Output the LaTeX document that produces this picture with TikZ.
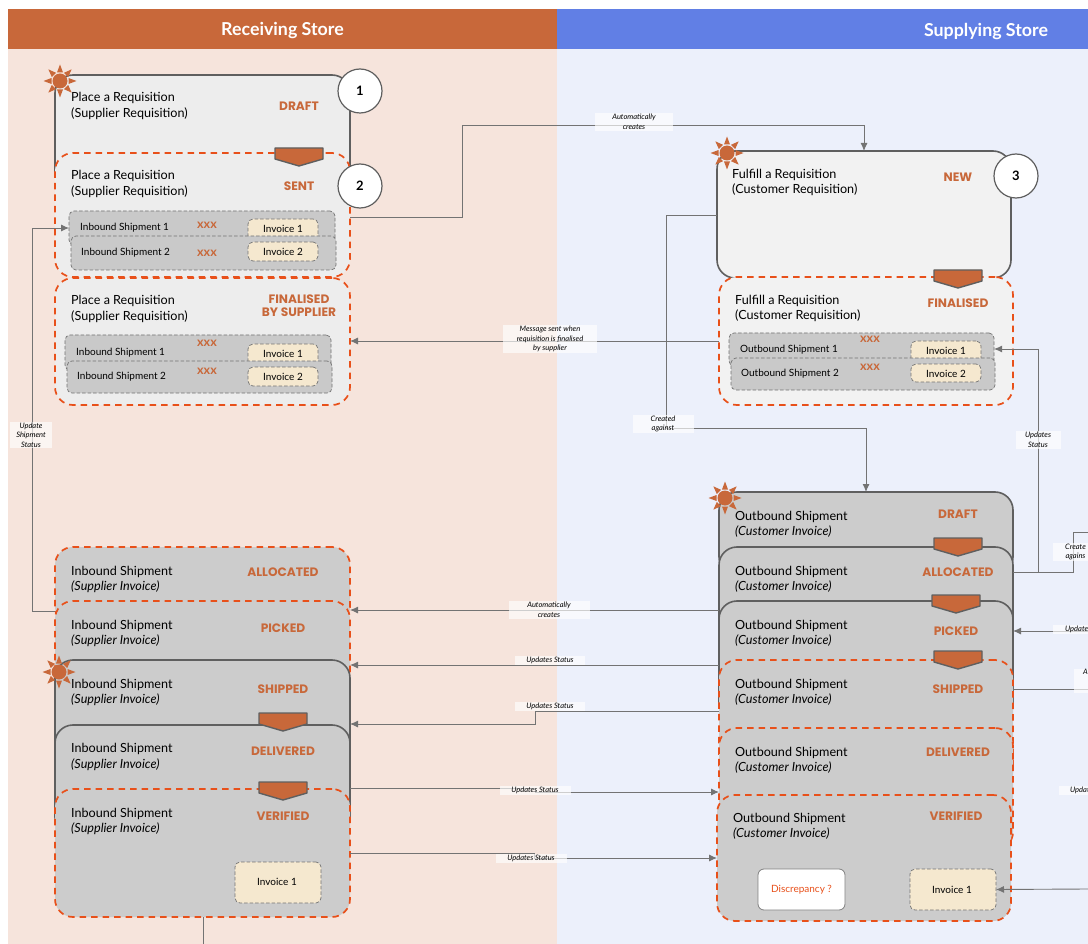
\documentclass[tikz,border=0pt]{standalone}
\usepackage{xcolor}
\usepackage{fontspec}
\setmainfont{Lato}
\newfontfamily\statusfont{Poppins}
\usepackage{tikz}
\usetikzlibrary{arrows.meta, positioning, fit}

\definecolor{rust}{HTML}{C8683A}
\definecolor{royal}{HTML}{617FE5}
\definecolor{blush}{HTML}{F6E4DC}
\definecolor{mist}{HTML}{ECF0FB}
\definecolor{flame}{HTML}{E8501A}
\definecolor{slate}{HTML}{5F5F5F}
\definecolor{cream}{HTML}{F5E8CF}

\begin{document}
\begin{tikzpicture}[
  x=1pt, y=-1pt,
  panel/.style={rectangle, inner sep=0pt, outer sep=0pt},
  stagebox/.style={rectangle, rounded corners=18pt, inner sep=0pt, outer sep=0pt, draw=slate, line width=1.6pt},
  dashbox/.style={stagebox, draw=flame, line width=1.7pt, dash pattern=on 6.500pt off 5pt},
  shipbox/.style={rectangle, rounded corners=5pt, inner sep=0pt, outer sep=0pt, draw=black!55, fill=black!21, line width=0.7pt, dash pattern=on 3.500pt off 2pt},
  invoice/.style={shipbox, fill=cream},
  flagbox/.style={rectangle, rounded corners=6pt, inner sep=0pt, outer sep=0pt, draw=gray, fill=white, line width=0.8pt},
  header/.style={text=white, font=\fontsize{17.8}{20}\selectfont\bfseries},
  title/.style={anchor=west, align=left, inner sep=0pt, font=\fontsize{12.6}{15.5}\selectfont},
  small/.style={anchor=west, inner sep=0pt, font=\fontsize{10}{12}\selectfont},
  plain/.style={inner sep=0pt, font=\fontsize{10}{12}\selectfont},
  status/.style={align=center, inner sep=0pt, text=rust, font=\fontsize{12.2}{13}\statusfont\bfseries},
  xmark/.style={inner sep=0pt, text=rust, font=\fontsize{12.5}{12}\selectfont\bfseries},
  badge/.style={circle, minimum size=44pt, inner sep=0pt, draw=slate, fill=white, line width=1.2pt, font=\fontsize{13}{15}\selectfont\bfseries},
  wire/.style={draw=black!55, line width=0.9pt},
  arrow/.style={wire, -{Latex[length=8pt, width=7pt]}},
  tag/.style={fill=white, fill opacity=0.65, text opacity=1, inner sep=0pt, align=center, font=\fontsize{7.5}{9.5}\selectfont\itshape},
  sun/.pic={
    \fill[rust] (0,0) circle (7.5);
    \foreach \a in {0,45,...,315}
      \fill[rust, rotate=\a] (8.500,-3) -- (16.5,0) -- (8.500,3) -- cycle;
  },
  chevron/.pic={
    \filldraw[fill=rust, draw=slate, line width=1.4pt, line join=round]
      (-24,0) -- (24,0) -- (24,11) -- (0,18) -- (-24,11) -- cycle;
  }
]
\useasboundingbox (0,0) rectangle (1088,944);
\clip (0,0) rectangle (1088,944);
\fill[white] (0,0) rectangle (1088,944);

% panels
\node[panel, fill=blush, fit={(8,49) (557,944)}] (recvPanel) {};
\node[panel, fill=mist, fit={(557,49) (1088,944)}] (supPanel) {};
\node[panel, fill=rust, fit={(8,9) (557,49)}] (recvHead) {};
\node[panel, fill=royal, fit={(557,9) (1088,49)}] (supHead) {};
\node[header] (recvTitle) at (282.500,31) {Receiving Store};
\node[header] (supTitle) at (986,31) {Supplying Store};

% supplier requisition
\node[stagebox, fill=black!7, fit={(55,75) (350,190)}] (reqDraft) {};
\node[dashbox, fill=black!7, fit={(55,153) (350,277)}] (reqSent) {};
\node[dashbox, fill=black!7, fit={(55,278) (350,405)}] (reqFinal) {};
\node[title] (reqDraftText) at (71,106) {Place a Requisition\\(Supplier Requisition)};
\node[title] (reqSentText) at (71,184) {Place a Requisition\\(Supplier Requisition)};
\node[title] (reqFinalText) at (71,309) {Place a Requisition\\(Supplier Requisition)};
\node[status] (reqDraftState) at (299,106) {DRAFT};
\node[status] (reqSentState) at (299,186) {SENT};
\node[status] (reqFinalState) at (299,305.500) {FINALISED\\BY SUPPLIER};
\pic at (299,148) {chevron};
\pic at (60,81) {sun};
\node[badge] (badgeOne) at (360,91) {1};
\node[badge] (badgeTwo) at (360,186) {2};

\node[shipbox, fit={(69,211) (335,245)}] (sentShipA) {};
\node[invoice, fit={(248,219) (318,245)}] (sentInvA) {};
\node[shipbox, fit={(71,236) (336,270)}] (sentShipB) {};
\node[invoice, fit={(248,242) (318,261)}] (sentInvB) {};
\node[small] (sentShipAText) at (80,228) {Inbound Shipment 1};
\node[small] (sentShipBText) at (81,253) {Inbound Shipment 2};
\node[xmark] (sentMarkA) at (207,225) {xxx};
\node[xmark] (sentMarkB) at (207,253) {xxx};
\node[plain] (sentInvAText) at (283,228.500) {Invoice 1};
\node[plain] (sentInvBText) at (283,252) {Invoice 2};

\node[shipbox, fit={(65,335) (331,370)}] (finalShipA) {};
\node[invoice, fit={(248,344) (318,370)}] (finalInvA) {};
\node[shipbox, fit={(67,361) (332,393)}] (finalShipB) {};
\node[invoice, fit={(248,367) (318,386)}] (finalInvB) {};
\node[small] (finalShipAText) at (76,353) {Inbound Shipment 1};
\node[small] (finalShipBText) at (77,377) {Inbound Shipment 2};
\node[xmark] (finalMarkA) at (207,343) {xxx};
\node[xmark] (finalMarkB) at (207,371) {xxx};
\node[plain] (finalInvAText) at (283,353.500) {Invoice 1};
\node[plain] (finalInvBText) at (283,376.500) {Invoice 2};

% customer requisition
\node[stagebox, fill=black!5, fit={(717,151) (1011,278)}] (custNew) {};
\node[dashbox, fill=black!5, fit={(719,277) (1013,405)}] (custFinal) {};
\node[title] (custNewText) at (732,182.500) {Fulfill a Requisition\\(Customer Requisition)};
\node[title] (custFinalText) at (735,308.500) {Fulfill a Requisition\\(Customer Requisition)};
\node[status] (custNewState) at (958,177) {NEW};
\node[status] (custFinalState) at (958,303) {FINALISED};
\pic at (958,270) {chevron};
\pic at (727,153) {sun};
\node[badge] (badgeThree) at (1016,176) {3};

\node[shipbox, fit={(729,333) (994,366)}] (custShipA) {};
\node[invoice, fit={(911,341) (981,366)}] (custInvA) {};
\node[shipbox, fit={(731,358) (995,390)}] (custShipB) {};
\node[invoice, fit={(911,364) (981,382)}] (custInvB) {};
\node[small] (custShipAText) at (740,350) {Outbound Shipment 1};
\node[small] (custShipBText) at (741,374) {Outbound Shipment 2};
\node[xmark] (custMarkA) at (870,339) {xxx};
\node[xmark] (custMarkB) at (870,367) {xxx};
\node[plain] (custInvAText) at (946,350.500) {Invoice 1};
\node[plain] (custInvBText) at (946,373.500) {Invoice 2};

% inbound shipment stack
\node[dashbox, fill=black!20, fit={(55,547) (350,625)}] (inAlloc) {};
\node[dashbox, fill=black!20, fit={(55,601) (350,690)}] (inPick) {};
\node[stagebox, fill=black!20, fit={(55,660) (350,770)}] (inShip) {};
\node[stagebox, fill=black!20, fit={(55,725) (350,835)}] (inDeliv) {};
\node[dashbox, fill=black!20, fit={(55,789) (350,917)}] (inVerif) {};
\node[title] (inAllocText) at (71,579.500) {Inbound Shipment\\\textit{(Supplier Invoice)}};
\node[title] (inPickText) at (71,633.500) {Inbound Shipment\\\textit{(Supplier Invoice)}};
\node[title] (inShipText) at (71,692.500) {Inbound Shipment\\\textit{(Supplier Invoice)}};
\node[title] (inDelivText) at (71,757) {Inbound Shipment\\\textit{(Supplier Invoice)}};
\node[title] (inVerifText) at (71,821.500) {Inbound Shipment\\\textit{(Supplier Invoice)}};
\node[status] (inAllocState) at (283,572) {ALLOCATED};
\node[status] (inPickState) at (283,628) {PICKED};
\node[status] (inShipState) at (283,689) {SHIPPED};
\node[status] (inDelivState) at (283,751) {DELIVERED};
\node[status] (inVerifState) at (283,816) {VERIFIED};
\pic at (283,713) {chevron};
\pic at (283,782) {chevron};
\pic at (59,672) {sun};
\node[invoice, fit={(235,862) (321,903)}] (inInv) {};
\node[plain] (inInvText) at (277,882) {Invoice 1};

% outbound shipment stack
\node[stagebox, fill=black!20, fit={(719,492) (1013,575)}] (outDraft) {};
\node[stagebox, fill=black!20, fit={(719,547) (1013,640)}] (outAlloc) {};
\node[stagebox, fill=black!20, fit={(719,601) (1013,720)}] (outPick) {};
\node[dashbox, fill=black!20, fit={(719,660) (1013,785)}] (outShip) {};
\node[dashbox, fill=black!20, fit={(719,728) (1013,850)}] (outDeliv) {};
\node[dashbox, fill=black!20, fit={(717,795) (1011,921)}] (outVerif) {};
\node[title] (outDraftText) at (735,524.500) {Outbound Shipment\\\textit{(Customer Invoice)}};
\node[title] (outAllocText) at (735,579.500) {Outbound Shipment\\\textit{(Customer Invoice)}};
\node[title] (outPickText) at (735,633.500) {Outbound Shipment\\\textit{(Customer Invoice)}};
\node[title] (outShipText) at (735,692.500) {Outbound Shipment\\\textit{(Customer Invoice)}};
\node[title] (outDelivText) at (735,760.500) {Outbound Shipment\\\textit{(Customer Invoice)}};
\node[title] (outVerifText) at (733,826.500) {Outbound Shipment\\\textit{(Customer Invoice)}};
\node[status] (outDraftState) at (958,514) {DRAFT};
\node[status] (outAllocState) at (958,572) {ALLOCATED};
\node[status] (outPickState) at (956,631) {PICKED};
\node[status] (outShipState) at (958,689) {SHIPPED};
\node[status] (outDelivState) at (958,752) {DELIVERED};
\node[status] (outVerifState) at (956,816) {VERIFIED};
\pic at (958,538) {chevron};
\pic at (956,595) {chevron};
\pic at (958,651) {chevron};
\pic at (725,498) {sun};
\node[flagbox, fit={(758,869) (845,910)}] (outFlag) {};
\node[plain, text=flame] (outFlagText) at (801.500,889.500) {Discrepancy ?};
\node[invoice, fit={(910,869) (996,910)}] (outInv) {};
\node[plain] (outInvText) at (952,889.500) {Invoice 1};

% free ends at the page border
\coordinate (edgeCreated) at (1088,532);
\coordinate (edgePicked) at (1088,631);
\coordinate (edgeShipped) at (1088,689);
\coordinate (edgeInvoice) at (1088,889);
\coordinate (edgeBottom) at (203,944);

% connectors
\draw[arrow] (reqSent.east |- 0,217) -- (462,217) -- (462,125) -| (custNew.north);
\draw[arrow] (custFinal.west |- 0,341) -- (reqFinal.east |- 0,341);
\draw[arrow] (custNew.west |- 0,215) -- (666,215) -- (666,428) -| (outDraft.north);
\draw[arrow] (outAlloc.east |- 0,572) -- (1038,572) -- (1038,349) -- (custShipA.east |- 0,349);
\draw[wire] (outAlloc.east |- 0,572) -- (1073,572) -- (1073,532) -- (edgeCreated);
\draw[arrow] (inPick.west |- 0,611) -- (32,611) -- (32,228) -- (sentShipA.west);
\draw[arrow] (outAlloc.west |- 0,610) -- (inPick.east |- 0,610);
\draw[arrow] (outPick.west |- 0,665) -- (inShip.east |- 0,665);
\draw[arrow] (outShip.west |- 0,711) -- (535,711) -- (535,724) -- (inDeliv.east |- 0,724);
\draw[arrow] (inDeliv.east |- 0,788) -- (535,788) -- (535,792) -- (outDeliv.west |- 0,792);
\draw[arrow] (inVerif.east |- 0,853) -- (534,853) -- (534,858) -- (outVerif.west |- 0,858);
\draw[arrow] (edgePicked) -- (outPick.east |- 0,631);
\draw[wire] (outShip.east |- 0,689) -- (edgeShipped);
\draw[arrow] (edgeInvoice) -- (outInv.east);
\draw[wire] (inVerif.south -| edgeBottom) -- (edgeBottom);

% connector labels
\node[tag, minimum width=78pt, minimum height=18pt] (tagAuto) at (634,122) {Automatically\\creates};
\node[tag, minimum width=94pt, minimum height=28pt] (tagMsg) at (550,339) {Message sent when\\requisition is finalised\\by supplier};
\node[tag, minimum width=61pt, minimum height=18pt] (tagCreatedA) at (663,424) {Created\\against};
\node[tag, minimum width=45pt, minimum height=18pt] (tagUpdatesA) at (1038,440) {Updates\\Status};
\node[tag, minimum width=42pt, minimum height=26pt] (tagShipStatus) at (31,435) {Update\\Shipment\\Status};
\node[tag, minimum width=81pt, minimum height=18pt] (tagAutoB) at (549,610) {Automatically\\creates};
\node[tag, minimum width=70pt, minimum height=9pt] (tagUpdatesB) at (550,660.500) {Updates Status};
\node[tag, minimum width=70pt, minimum height=9pt] (tagUpdatesC) at (550,706.500) {Updates Status};
\node[tag, minimum width=71pt, minimum height=9pt] (tagUpdatesD) at (535,790.500) {Updates Status};
\node[tag, minimum width=71pt, minimum height=9pt] (tagUpdatesE) at (531,858) {Updates Status};
% labels that run past the page border
\node[tag, anchor=west, minimum height=18pt, inner xsep=12pt] (tagCreatedB) at (1053,552) {Create\\agains};
\node[tag, anchor=west, minimum height=9pt, inner xsep=12pt] (tagUpdatesF) at (1053,629.500) {Update};
\node[tag, anchor=north west, minimum height=18pt, inner xsep=9pt] (tagAutoC) at (1074,669) {A\\[9pt]};
\node[tag, anchor=west, minimum height=9pt, inner xsep=11pt] (tagUpdatesG) at (1059,790.500) {Updat};
\end{tikzpicture}
\end{document}
